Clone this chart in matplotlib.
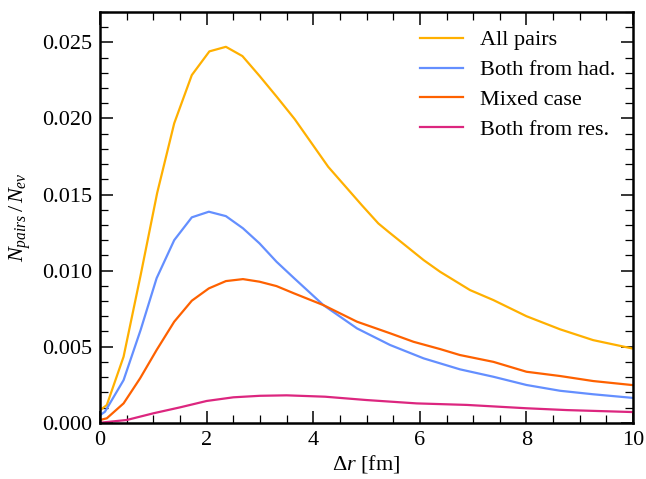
"""Pair counts vs. separation, four pair classes."""

import matplotlib
matplotlib.use("Agg")
import matplotlib.pyplot as plt
from matplotlib.ticker import MultipleLocator, FormatStrFormatter

plt.rcParams["font.family"] = "serif"
plt.rcParams["font.serif"] = ["Liberation Serif", "DejaVu Serif"]
plt.rcParams["mathtext.fontset"] = "custom"
plt.rcParams["mathtext.rm"] = "Liberation Serif"
plt.rcParams["mathtext.it"] = "Liberation Serif:italic"

# values
x_all = [0.0, 0.125, 0.44, 0.76, 1.07, 1.39, 1.72, 2.05, 2.36, 2.67, 2.99, 3.32, 3.65,
         4.28, 4.91, 5.22, 5.41, 6.07, 6.38, 6.94, 7.38, 8.0, 8.63, 9.25, 10.0]
y_all = [0.00083, 0.00116, 0.00434, 0.0097, 0.0151, 0.01968, 0.02285, 0.02441, 0.02471,
         0.0241, 0.0228, 0.0214, 0.01996, 0.01682, 0.0143, 0.0131, 0.01255, 0.01069,
         0.00992, 0.00872, 0.00806, 0.0070, 0.00614, 0.00543, 0.00487]

x_had = [0.0, 0.09, 0.44, 0.76, 1.06, 1.39, 1.72, 2.04, 2.36, 2.68, 2.99, 3.31, 3.64,
         4.19, 4.82, 5.44, 6.07, 6.75, 7.38, 8.0, 8.63, 9.25, 10.0]
y_had = [0.0005, 0.00072, 0.0028, 0.0061, 0.0095, 0.0120, 0.0135, 0.01387, 0.01358,
         0.01278, 0.01179, 0.01058, 0.0095, 0.00773, 0.0062, 0.00511, 0.00423, 0.00351,
         0.00302, 0.00248, 0.0021, 0.00187, 0.00163]

x_mix = [0.0, 0.125, 0.44, 0.75, 1.06, 1.39, 1.72, 2.04, 2.36, 2.68, 2.99, 3.31, 3.64,
         4.19, 4.82, 5.44, 5.88, 6.38, 6.75, 7.38, 8.0, 8.63, 9.25, 10.0]
y_mix = [0.00018, 0.00029, 0.00127, 0.00292, 0.00478, 0.00664, 0.00802, 0.00883, 0.00931,
         0.00944, 0.00927, 0.00898, 0.0085, 0.00773, 0.00664, 0.00588, 0.00532, 0.00484,
         0.00445, 0.0040, 0.00335, 0.00307, 0.00274, 0.00247]

x_res = [0.0, 0.5, 1.0, 1.5, 2.0, 2.5, 3.0, 3.5, 4.22, 5.0, 5.94, 6.88, 8.0, 8.76, 10.0]
y_res = [0.0, 0.00018, 0.00062, 0.00101, 0.00143, 0.00167, 0.00177, 0.0018, 0.00171,
         0.00149, 0.00127, 0.00117, 0.00095, 0.00083, 0.0007]

labels = ["All pairs", "Both from had.", "Mixed case", "Both from res."]
colors = ["#FFB000", "#648FFF", "#FE6100", "#DC267F"]

fig = plt.figure(figsize=(6.46, 4.79), dpi=100)
ax = fig.add_axes([0.155, 0.1175, 0.825, 0.8575])

series = [(x_all, y_all), (x_had, y_had), (x_mix, y_mix), (x_res, y_res)]
for (xs, ys), lab, col in zip(series, labels, colors):
    ax.plot(xs, ys, color=col, lw=1.6, label=lab)

ax.set_xlim(0, 10)
ax.set_ylim(0, 0.027)
ax.xaxis.set_major_locator(MultipleLocator(2))
ax.xaxis.set_minor_locator(MultipleLocator(0.5))
ax.yaxis.set_major_locator(MultipleLocator(0.005))
ax.yaxis.set_minor_locator(MultipleLocator(0.001))
ax.yaxis.set_major_formatter(FormatStrFormatter("%.3f"))

ax.tick_params(which="both", direction="in", top=True, right=True, labelsize=16)
ax.tick_params(which="major", length=9, width=1.1, pad=6)
ax.tick_params(which="minor", length=6, width=0.9)
for sp in ax.spines.values():
    sp.set_linewidth(1.8)

ax.set_xlabel(r"$\Delta r$ [fm]", fontsize=16, labelpad=2)
ax.set_ylabel(r"$N_{pairs}\,/\,N_{ev}$", fontsize=16, labelpad=6)

ax.legend(loc="upper right", bbox_to_anchor=(1.004, 1.005), frameon=False, fontsize=16,
          handlelength=1.95, handletextpad=0.75, labelspacing=0.42)

fig.savefig("out.png", dpi=100)
